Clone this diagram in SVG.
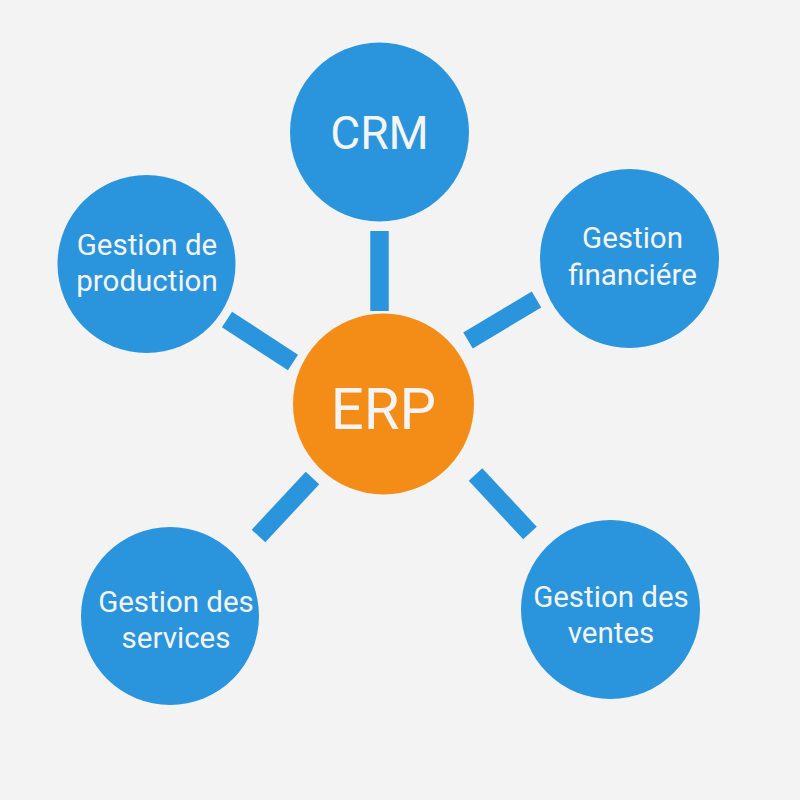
<svg xmlns="http://www.w3.org/2000/svg" width="800" height="800" viewBox="0 0 800 800">
<style>
.bg{fill:#f3f3f3}
.mod{fill:#2a95dc}
.core{fill:#f38d18}
.bar{stroke:#2a95dc;stroke-width:18.5;stroke-linecap:butt}
text{font-family:Roboto,"Liberation Sans",sans-serif;fill:#f4f4f4;text-anchor:middle}
.s{font-size:29.5px}
</style>
<rect class="bg" width="800" height="800"/>
<g id="connectors">
<line class="bar" x1="379.5" y1="231" x2="379.5" y2="311"/>
<line class="bar" x1="468" y1="340.5" x2="536.5" y2="299.5"/>
<line class="bar" x1="227" y1="319.5" x2="293" y2="362.5"/>
<line class="bar" x1="258.5" y1="536" x2="312.5" y2="478"/>
<line class="bar" x1="475.5" y1="474.5" x2="530" y2="533"/>
</g>
<g id="erp">
<circle class="core" cx="383.5" cy="404" r="90.5"/>
<text x="383.5" y="429" style="font-size:58px">ERP</text>
</g>
<g id="crm">
<circle class="mod" cx="379.5" cy="132" r="89.5"/>
<text x="379.5" y="149" style="font-size:46px">CRM</text>
</g>
<g id="finance">
<circle class="mod" cx="629.5" cy="258.5" r="89.5"/>
<text class="s" x="632.5" y="248">Gestion</text>
<text class="s" x="632.5" y="285">financiére</text>
</g>
<g id="production">
<circle class="mod" cx="146.5" cy="264" r="89"/>
<text class="s" x="147" y="255">Gestion de</text>
<text class="s" x="147" y="291">production</text>
</g>
<g id="services">
<circle class="mod" cx="170" cy="616" r="89"/>
<text class="s" x="176" y="612">Gestion des</text>
<text class="s" x="176" y="648">services</text>
</g>
<g id="ventes">
<circle class="mod" cx="610.5" cy="609.5" r="89.5"/>
<text class="s" x="611" y="607">Gestion des</text>
<text class="s" x="611" y="643">ventes</text>
</g>
</svg>
